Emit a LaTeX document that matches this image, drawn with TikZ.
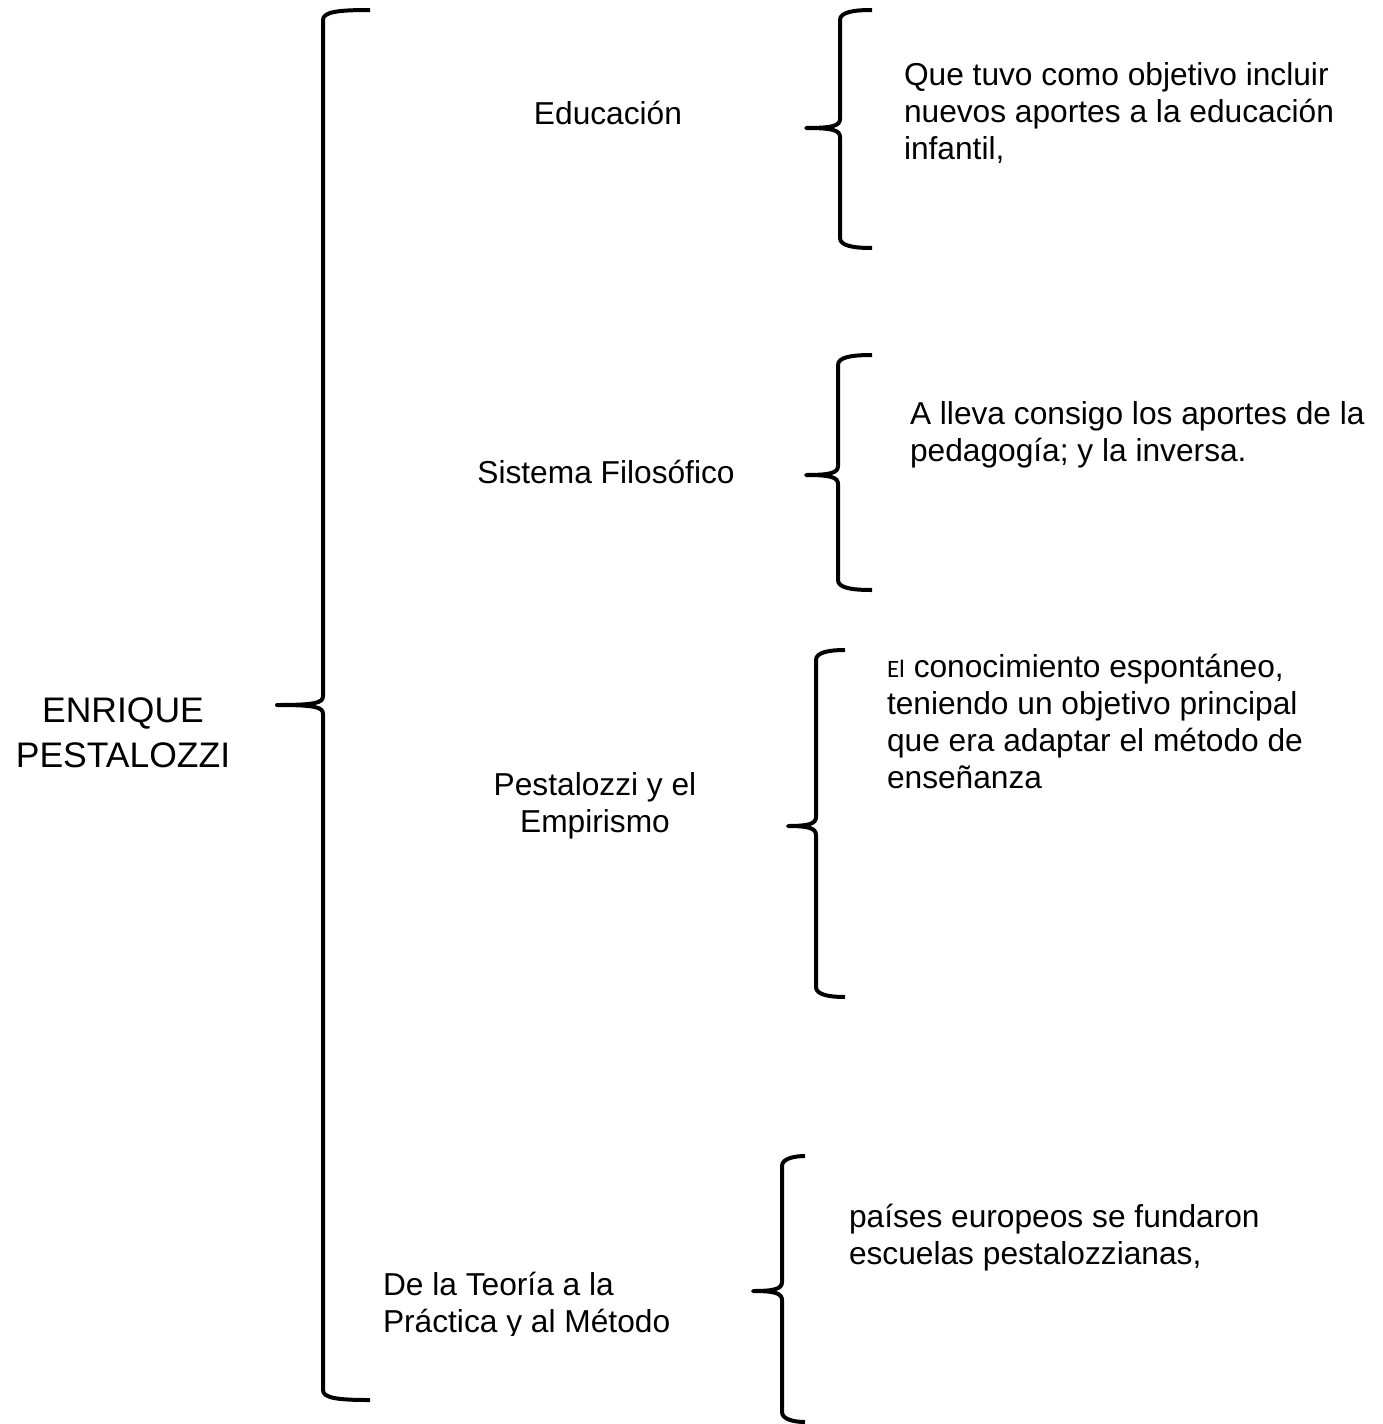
\documentclass[tikz,border=0pt]{standalone}
\usepackage{fontspec}
\setmainfont{Liberation Sans}
\newfontfamily\calfont{Carlito}
\newcommand\mybrace[6]{% xv, ytop, ymid, ybot, xr, xtip
  \draw[bracestyle] (#5,#2) .. controls (#1+14,#2) and (#1,#2+2) .. (#1,#2+10)
    -- (#1,#3-9) .. controls (#1,#3-2) and (#1-8,#3) .. (#6,#3)
    .. controls (#1-8,#3) and (#1,#3+2) .. (#1,#3+9)
    -- (#1,#4-10) .. controls (#1,#4-2) and (#1+14,#4) .. (#5,#4);}
\begin{document}
\begin{tikzpicture}[x=1pt,y=-1pt,
  bracestyle/.style={line width=4pt, line cap=butt, line join=round},
  txt/.style={inner sep=0pt, outer sep=0pt, align=left, font=\fontsize{31.7}{37}\selectfont},
  ctxt/.style={inner sep=0pt, outer sep=0pt, align=center, font=\fontsize{31.7}{37}\selectfont},
  ttl/.style={inner sep=0pt, outer sep=0pt, align=center, font=\fontsize{35.5}{45}\selectfont}]
\useasboundingbox[fill=white] (0,0) rectangle (1383,1424);

% braces
\mybrace{323}{10}{705}{1400}{370}{277}
\mybrace{840}{10}{128}{248}{872}{806}
\mybrace{838}{355}{475}{590}{872}{806}
\mybrace{816}{650}{826}{997}{845}{788}
\mybrace{782}{1156}{1291}{1422}{805}{753}

% title (base = last line)
\node[ttl, anchor=base] (title) at (123,767) {ENRIQUE\\PESTALOZZI};

% middle labels
\node[ctxt, anchor=base] (edu) at (608,124) {Educación};
\node[ctxt, anchor=base] (sis) at (606,483) {Sistema Filosófico};
\node[ctxt, anchor=base] (emp) at (595,832) {Pestalozzi y el\\Empirismo};
\begin{scope}
\clip (0,0) rectangle (1383,1335);
\node[txt, anchor=base west] (teo) at (383,1332) {De la Teoría a la\\Práctica y al Método};
\end{scope}

% right texts
\node[txt, anchor=base west] (t1) at (904,159) {Que tuvo como objetivo incluir\\nuevos aportes a la educación\\infantil,};
\node[txt, anchor=base west] (t2) at (910,461) {A lleva consigo los aportes de la\\pedagogía; y la inversa.};
\node[txt, anchor=base west] (t3) at (887,788) {{\calfont\fontsize{25}{37}\selectfont El} conocimiento espontáneo,\\teniendo un objetivo principal\\que era adaptar el método de\\enseñanza};
\node[txt, anchor=base west] (t4) at (849,1264) {países europeos se fundaron\\escuelas pestalozzianas,};
\end{tikzpicture}
\end{document}
